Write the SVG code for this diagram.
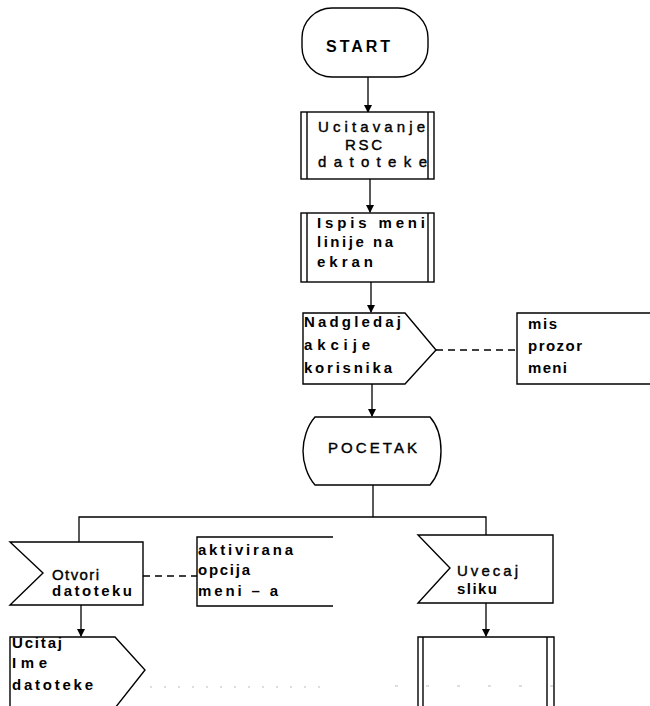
<svg xmlns="http://www.w3.org/2000/svg" width="650" height="706" viewBox="0 0 650 706">
<style>
.s{fill:#fff;stroke:#000;stroke-width:1.4}
.o{fill:none;stroke:#000;stroke-width:1.4}
.c{fill:none;stroke:#000;stroke-width:1.3}
.d{fill:none;stroke:#000;stroke-width:1.4;stroke-dasharray:7 5}
text{font-family:"Liberation Sans",Arial,sans-serif;font-size:15px;font-weight:bold;fill:#000}
.r{font-weight:normal;stroke:#000;stroke-width:0.4}
</style>
<defs>
<marker id="a" markerWidth="8" markerHeight="8" refX="7" refY="4" orient="auto" markerUnits="userSpaceOnUse">
<path d="M0,0 L8,4 L0,8 Z" fill="#000"/>
</marker>
</defs>
<rect width="650" height="706" fill="#fff"/>
<g id="connectors">
<line class="c" x1="368" y1="77" x2="368" y2="112" marker-end="url(#a)"/>
<line class="c" x1="370" y1="179" x2="370" y2="212" marker-end="url(#a)"/>
<line class="c" x1="371" y1="282" x2="371" y2="312" marker-end="url(#a)"/>
<line class="c" x1="372" y1="384" x2="372" y2="416" marker-end="url(#a)"/>
<polyline class="c" points="373,485 373,517"/>
<polyline class="c" points="79,542 79,517 486,517 486,535"/>
<line class="c" x1="81" y1="605" x2="81" y2="636" marker-end="url(#a)"/>
<line class="c" x1="486" y1="603" x2="486" y2="636" marker-end="url(#a)"/>
<line class="d" x1="436" y1="350" x2="517" y2="350"/>
<line class="d" x1="143" y1="576" x2="197" y2="576"/>
<line x1="150" y1="687" x2="330" y2="687" stroke="#bbb" stroke-width="1" stroke-dasharray="2 12"/>
<line x1="395" y1="686" x2="580" y2="686" stroke="#bbb" stroke-width="1" stroke-dasharray="3 28"/>
</g>
<g id="start">
<rect class="s" x="302" y="8" width="126" height="69" rx="30" ry="30"/>
<text x="326" y="52" textLength="64" lengthAdjust="spacing" style="font-size:16px">START</text>
</g>
<g id="ucitavanje">
<rect class="s" x="301" y="112" width="133" height="67"/>
<line class="o" x1="307" y1="112" x2="307" y2="179"/>
<line class="o" x1="428" y1="112" x2="428" y2="179"/>
<text class="r" x="318" y="132" textLength="107" lengthAdjust="spacing">Ucitavanje</text>
<text class="r" x="345" y="150" textLength="37" lengthAdjust="spacing">RSC</text>
<text class="r" x="318" y="167" textLength="109" lengthAdjust="spacing">datoteke</text>
</g>
<g id="ispis">
<rect class="s" x="301" y="213" width="133" height="69"/>
<line class="o" x1="307" y1="213" x2="307" y2="282"/>
<line class="o" x1="428" y1="213" x2="428" y2="282"/>
<text x="317" y="228" textLength="108" lengthAdjust="spacing">Ispis meni</text>
<text x="317" y="247" textLength="76" lengthAdjust="spacing">linije na</text>
<text x="317" y="267" textLength="56" lengthAdjust="spacing">ekran</text>
</g>
<g id="nadgledaj">
<path class="s" d="M303,313 H405 L436,350 L405,384 H303 Z"/>
<text x="304" y="327" textLength="97" lengthAdjust="spacing">Nadgledaj</text>
<text x="304" y="350" textLength="66" lengthAdjust="spacing">akcije</text>
<text x="304" y="373" textLength="88" lengthAdjust="spacing">korisnika</text>
</g>
<g id="mis">
<polyline class="o" points="652,313 517,313 517,384 652,384"/>
<text x="528" y="329" textLength="29" lengthAdjust="spacing">mis</text>
<text x="528" y="351" textLength="54" lengthAdjust="spacing">prozor</text>
<text x="528" y="373" textLength="39" lengthAdjust="spacing">meni</text>
</g>
<g id="pocetak">
<path class="s" d="M315,417 H430 C438,426 441,440 441,451 C441,462 438,476 430,485 H315 C307,476 303,462 303,451 C303,440 307,426 315,417 Z"/>
<text x="328" y="453" textLength="89" lengthAdjust="spacing" class="r">POCETAK</text>
</g>
<g id="otvori">
<path class="s" d="M10,542 H143 V605 H10 L43,573 Z"/>
<text x="52" y="580" textLength="47" lengthAdjust="spacing" class="r">Otvori</text>
<text x="52" y="596" textLength="80" lengthAdjust="spacing">datoteku</text>
</g>
<g id="aktivirana">
<polyline class="o" points="333,537 197,537 197,606 333,606"/>
<text x="198" y="555" textLength="95" lengthAdjust="spacing">aktivirana</text>
<text x="198" y="575" textLength="52" lengthAdjust="spacing">opcija</text>
<text x="198" y="596" textLength="80" lengthAdjust="spacing">meni – a</text>
</g>
<g id="uvecaj">
<path class="s" d="M418,535 H553 V603 H418 L450,568 Z"/>
<text x="457" y="576" textLength="61" lengthAdjust="spacing" class="r">Uvecaj</text>
<text x="457" y="594" textLength="40" lengthAdjust="spacing">sliku</text>
</g>
<g id="ucitaj">
<path class="s" d="M10,637 H115 L145,670 L115,708 H10 Z"/>
<text x="12" y="648" textLength="50" lengthAdjust="spacing">Ucitaj</text>
<text x="12" y="668" textLength="35" lengthAdjust="spacing">Ime</text>
<text x="12" y="690" textLength="81" lengthAdjust="spacing">datoteke</text>
</g>
<g id="subprocess">
<path class="o" d="M418,708 V637 H554 V708"/>
<line class="o" x1="423" y1="637" x2="423" y2="708"/>
<line class="o" x1="547" y1="637" x2="547" y2="708"/>
</g>
</svg>
